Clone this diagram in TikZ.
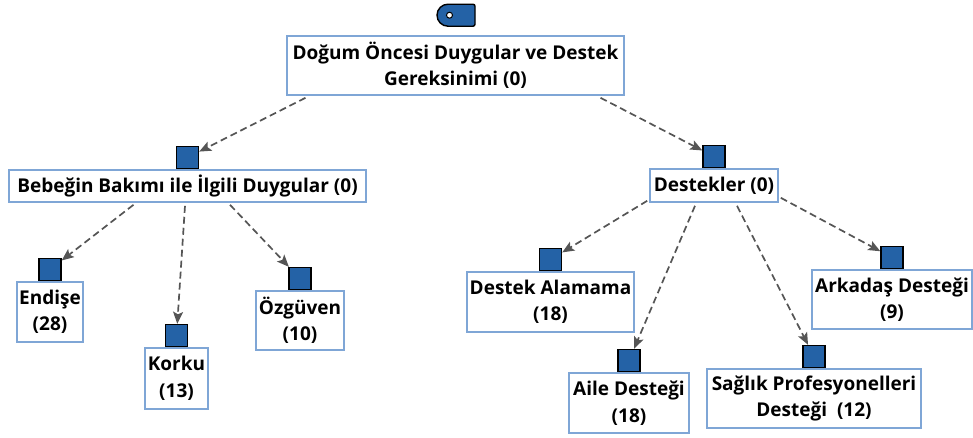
\documentclass[tikz,border=0pt]{standalone}
\usepackage{fontspec}
\setmainfont{Open Sans}
\usetikzlibrary{arrows.meta}
\definecolor{boxline}{HTML}{7FA6D6}
\definecolor{markfill}{HTML}{2462A6}
\definecolor{linkgray}{HTML}{555555}
\tikzset{
  label box/.style={draw=boxline, line width=1.6pt, fill=white, inner sep=0pt,
    align=center, font=\fontsize{19}{26.5}\selectfont\bfseries},
  marker/.style={draw=black, line width=1.4pt, fill=markfill, minimum size=22pt,
    inner sep=0pt, anchor=south},
  link/.style={draw=linkgray, line width=1.7pt, dash pattern=on 7pt off 4pt,
    -{Stealth[length=12pt,width=10pt,inset=2.5pt]}}
}
\begin{document}
\begin{tikzpicture}[x=1pt,y=-1pt]
\useasboundingbox (0,0) rectangle (973,437);

% boxes
\node[label box, minimum width=337pt, minimum height=59pt] (root) at (455.5,65.5)
  {Doğum Öncesi Duygular ve Destek\\Gereksinimi (0)};
\node[label box, minimum width=357pt, minimum height=32pt] (beb) at (187.5,186)
  {Bebeğin Bakımı ile İlgili Duygular (0)};
\node[label box, minimum width=128pt, minimum height=33pt] (des) at (714,185.5)
  {Destekler (0)};
\node[label box, minimum width=66pt, minimum height=60pt] (endise) at (50,312)
  {Endişe\\(28)};
\node[label box, minimum width=63pt, minimum height=61pt] (korku) at (176.5,378.5)
  {Korku\\(13)};
\node[label box, minimum width=88pt, minimum height=59pt] (ozg) at (300,320.5)
  {Özgüven\\(10)};
\node[label box, minimum width=167pt, minimum height=60pt] (alam) at (550.5,302)
  {Destek Alamama\\(18)};
\node[label box, minimum width=120pt, minimum height=60pt] (aile) at (629,403)
  {Aile Desteği\\(18)};
\node[label box, minimum width=214pt, minimum height=59pt] (saglik) at (814,398.5)
  {Sağlık Profesyonelleri\\Desteği\ \ (12)};
\node[label box, minimum width=160pt, minimum height=59pt] (ark) at (892,299.5)
  {Arkadaş Desteği\\(9)};

% square markers on top of the boxes
\foreach \b in {beb,des,endise,korku,ozg,alam,aile,saglik,ark}
  \node[marker] (m\b) at (\b.north) {};

% tag icon above the root
\begin{scope}[shift={(root.north)}]
  \path[draw=black, line width=1.4pt, fill=markfill]
    (-7.5,-31) -- (17.5,-31) arc[start angle=270, end angle=360, radius=2]
    -- (19.5,-11) arc[start angle=0, end angle=90, radius=2]
    -- (-7.5,-9) arc[start angle=90, end angle=270, radius=11] -- cycle;
  \path[draw=black, line width=1pt, fill=white] (-6,-20) circle (3);
\end{scope}

% connectors
\draw[link] ([xshift=-150pt,yshift=-2pt]root.south) -- (mbeb);
\draw[link] ([xshift=145pt,yshift=-2pt]root.south) -- (mdes);
\draw[link] ([xshift=-54pt,yshift=-2pt]beb.south) -- (mendise);
\draw[link] ([xshift=-2.5pt,yshift=-3pt]beb.south) -- (mkorku);
\draw[link] ([xshift=42.5pt,yshift=-2pt]beb.south) -- (mozg);
\draw[link] ([xshift=-2pt,yshift=2pt]des.south west) -- (malam);
\draw[link] ([xshift=-19pt,yshift=-3pt]des.south) -- (maile);
\draw[link] ([xshift=23pt,yshift=-3pt]des.south) -- (msaglik);
\draw[link] ([xshift=2pt,yshift=5pt]des.south east) -- (mark);
\end{tikzpicture}
\end{document}
